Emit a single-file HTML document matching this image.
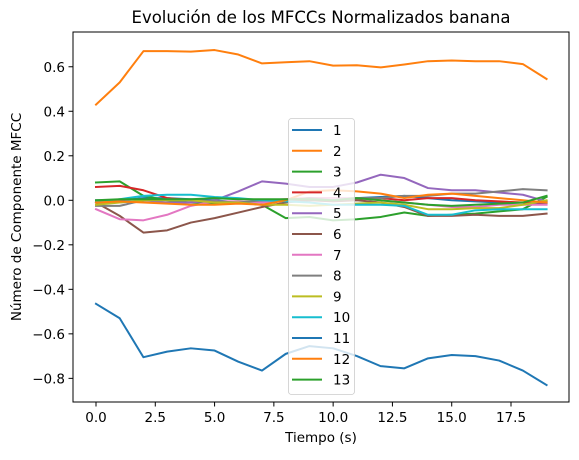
<!DOCTYPE html>
<html><head><meta charset="utf-8"><style>
body{margin:0;background:#fff;}
svg text{font-family:"DejaVu Sans","Liberation Sans",sans-serif;fill:#000;}
</style></head><body>
<svg id="chart" width="579" height="455" viewBox="0 0 579 455" xmlns="http://www.w3.org/2000/svg">
<rect width="579" height="455" fill="#fff"/>
<text x="321" y="23" font-size="16.5" text-anchor="middle">Evolución de los MFCCs Normalizados banana</text>
<g id="series"></g>
<g id="axes"></g>
<g id="legend"></g>
</svg>
<script>
const times = [0,1,2,3,4,5,6,7,8,9,10,11,12,13,14,15,16,17,18,19];
const xTicks = [0,2.5,5,7.5,10,12.5,15,17.5];
const xTickLabels = ["0.0","2.5","5.0","7.5","10.0","12.5","15.0","17.5"];
const yTicks = [0.6,0.4,0.2,0,-0.2,-0.4,-0.6,-0.8];
const yTickLabels = ["0.6","0.4","0.2","0.0","\u22120.2","\u22120.4","\u22120.6","\u22120.8"];
const seriesNames = ["1","2","3","4","5","6","7","8","9","10","11","12","13"];
const s1 = [0.0,0.0,0.01,0.01,0.005,0.0,-0.01,-0.005,0.0,0.0,0.005,0.01,0.015,0.02,0.01,0.0,-0.005,-0.01,-0.01,-0.015];
const s2 = [0.43,0.53,0.67,0.67,0.668,0.675,0.655,0.615,0.62,0.625,0.605,0.607,0.597,0.61,0.625,0.628,0.625,0.625,0.612,0.545];
const s3 = [0.08,0.085,0.02,0.0,-0.01,-0.015,-0.01,-0.02,-0.08,-0.075,-0.09,-0.085,-0.075,-0.055,-0.07,-0.065,-0.06,-0.05,-0.04,0.015];
const s4 = [0.06,0.065,0.045,0.01,0.0,-0.005,-0.01,0.0,0.005,0.01,0.01,0.005,0.01,0.0,0.01,0.01,0.0,-0.005,-0.01,-0.01];
const s5 = [-0.01,-0.01,0.0,-0.01,-0.01,0.0,0.04,0.085,0.075,0.06,0.06,0.08,0.115,0.1,0.055,0.045,0.045,0.035,0.025,-0.005];
const s6 = [-0.01,-0.07,-0.145,-0.135,-0.1,-0.08,-0.055,-0.03,-0.01,0.0,-0.005,0.0,-0.01,-0.03,-0.07,-0.07,-0.065,-0.07,-0.07,-0.06];
const s7 = [-0.04,-0.085,-0.09,-0.065,-0.025,-0.005,-0.005,-0.01,0.0,0.01,0.01,0.01,0.0,-0.01,-0.02,-0.03,-0.03,-0.02,-0.02,-0.02];
const s8 = [-0.025,-0.025,0.0,0.005,0.0,-0.005,-0.01,0.0,0.0,0.01,0.0,0.01,0.01,0.02,0.02,0.03,0.03,0.04,0.05,0.045];
const s9 = [-0.02,-0.01,0.0,0.0,0.0,-0.01,-0.01,-0.02,-0.02,-0.025,-0.02,-0.015,-0.01,-0.02,-0.04,-0.04,-0.035,-0.035,-0.02,0.0];
const s10 = [-0.01,0.005,0.02,0.025,0.025,0.015,0.01,0.0,-0.005,-0.01,-0.02,-0.02,-0.02,-0.025,-0.065,-0.065,-0.045,-0.04,-0.04,-0.04];
const s11 = [-0.465,-0.53,-0.705,-0.68,-0.665,-0.675,-0.725,-0.765,-0.69,-0.655,-0.665,-0.7,-0.745,-0.755,-0.71,-0.695,-0.7,-0.72,-0.765,-0.83];
const s12 = [-0.01,-0.005,-0.01,-0.015,-0.02,-0.02,-0.015,-0.02,0.0,0.04,0.045,0.04,0.03,0.01,0.025,0.03,0.02,0.01,0.0,-0.01];
const s13 = [0.0,0.005,0.005,0.005,0.005,0.01,0.005,0.005,0.005,0.005,0.0,0.01,0.0,-0.01,-0.02,-0.025,-0.02,-0.015,-0.01,0.02];
const allSeries = [s1,s2,s3,s4,s5,s6,s7,s8,s9,s10,s11,s12,s13];
const colors = ["#1f77b4","#ff7f0e","#2ca02c","#d62728","#9467bd","#8c564b","#e377c2","#7f7f7f","#bcbd22","#17becf","#1f77b4","#ff7f0e","#2ca02c"];

const L=73,R=569,T=32,B=402;
const x0px=96, xUnit=(511-96)/17.5;
const y0px=200.3, yUnit=(378.3-66.7)/1.4;
function sx(v){return x0px+v*xUnit;}
function sy(v){return y0px-v*yUnit;}
const NS="http://www.w3.org/2000/svg";
function mk(tag,attrs,parent){const e=document.createElementNS(NS,tag);for(const k in attrs)e.setAttribute(k,attrs[k]);parent.appendChild(e);return e;}

const sg=document.getElementById('series');
allSeries.forEach((arr,i)=>{
  const d=arr.map((v,j)=>(j?'L':'M')+sx(times[j]).toFixed(2)+','+sy(v).toFixed(2)).join(' ');
  const p=mk('path',{d:d,fill:'none',stroke:colors[i],'stroke-width':2,'stroke-linejoin':'round','stroke-linecap':'square'},sg);
  
  
});

const ax=document.getElementById('axes');
const frame=mk('rect',{x:L,y:T,width:R-L,height:B-T,fill:'none',stroke:'#000','stroke-width':1},ax);


xTicks.forEach((t,i)=>{
  const x=sx(t);
  const tk=mk('line',{x1:x,x2:x,y1:B,y2:B+4.5,stroke:'#000','stroke-width':1},ax);
  
  
  const tx=mk('text',{x:x,y:B+20,'font-size':13.5,'text-anchor':'middle'},ax);
  tx.textContent=xTickLabels[i];
  
  
});
yTicks.forEach((t,i)=>{
  const y=sy(t);
  const tk=mk('line',{x1:L-4.5,x2:L,y1:y,y2:y,stroke:'#000','stroke-width':1},ax);
  
  
  const tx=mk('text',{x:L-8,y:y+5,'font-size':13.5,'text-anchor':'end'},ax);
  tx.textContent=yTickLabels[i];
  
  
});
const xt=mk('text',{x:(L+R)/2,y:442,'font-size':13.5,'text-anchor':'middle'},ax);
xt.textContent='Tiempo (s)';


const yt=mk('text',{x:0,y:0,'font-size':13.5,'text-anchor':'middle',transform:'translate(21,'+((T+B)/2)+') rotate(-90)'},ax);
yt.textContent='Número de Componente MFCC';



const lg=document.getElementById('legend');
const box=mk('rect',{x:288.5,y:118.5,width:66,height:276,rx:3,fill:'#fff','fill-opacity':0.8,stroke:'#ccc','stroke-width':0.8},lg);


seriesNames.forEach((n,i)=>{
  const y=130+i*20.8;
  const ln=mk('line',{x1:292,x2:322,y1:y,y2:y,stroke:colors[i],'stroke-width':2},lg);
  
  
  const tx=mk('text',{x:333,y:y+5,'font-size':13.5},lg);
  tx.textContent=n;
  
  
});
</script>
</body></html>
